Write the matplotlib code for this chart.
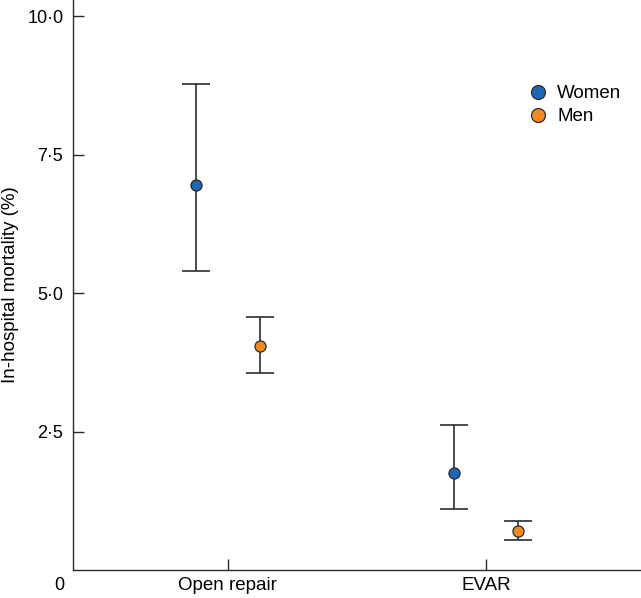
import numpy as np
import matplotlib
matplotlib.use("Agg")
import matplotlib.pyplot as plt
from matplotlib.lines import Line2D

plt.rcParams['font.family'] = ['Liberation Sans', 'DejaVu Sans']

#------------------------------------ Data -------------------------------------
categories = ['Open repair', 'EVAR']
women_mean = [6.95, 1.75]
women_low = [5.39, 1.10]
women_high = [8.77, 2.62]
men_mean = [4.04, 0.71]
men_low = [3.55, 0.55]
men_high = [4.56, 0.88]
y_ticks = [2.5, 5.0, 7.5, 10.0]
y_tick_labels = ['2·5', '5·0', '7·5', '10·0']

#------------------------------------ Style ------------------------------------
color_women = '#1f67b4'
color_men = '#f28a22'
line_color = '#2b2b2b'
offset = 0.124
fs = 13.5

fig = plt.figure(figsize=(6.41, 5.98), dpi=100)
ax = fig.add_axes((73 / 641, 28 / 598, 568 / 641, 570 / 598))

x = np.arange(len(categories))

def draw_group(xpos, mean, low, high, color):
    mean = np.array(mean)
    err = [mean - np.array(low), np.array(high) - mean]
    ax.errorbar(xpos, mean, yerr=err, fmt='none', ecolor=line_color,
                elinewidth=1.2, capsize=10, capthick=1.2, zorder=2)
    ax.plot(xpos, mean, 'o', markersize=8, markerfacecolor=color,
            markeredgecolor=line_color, markeredgewidth=0.9, zorder=3)

draw_group(x - offset, women_mean, women_low, women_high, color_women)
draw_group(x + offset, men_mean, men_low, men_high, color_men)

ax.set_xlim(-0.6, 1.6)
ax.set_ylim(0, 10.29)
ax.set_xticks(x)
ax.set_xticklabels(categories, fontsize=fs)
ax.set_yticks(y_ticks)
ax.set_yticklabels(y_tick_labels, fontsize=13)
ax.tick_params(direction='in', length=8, width=1.0, color=line_color, pad=7)
ax.tick_params(axis='x', pad=5)
for side in ['top', 'right']:
    ax.spines[side].set_visible(False)
for side in ['left', 'bottom']:
    ax.spines[side].set_color(line_color)
    ax.spines[side].set_linewidth(1.0)

# origin label sits a little below the axis
ax.annotate('0', xy=(0, 0), xycoords='axes fraction', xytext=(-9, -16),
            textcoords='offset pixels', ha='right', va='center', fontsize=13)

ax.set_ylabel('In-hospital mortality (%)', fontsize=fs, labelpad=6)

handles = [
    Line2D([], [], marker='o', linestyle='none', markersize=10,
           markerfacecolor=color_women, markeredgecolor=line_color, markeredgewidth=0.9),
    Line2D([], [], marker='o', linestyle='none', markersize=10,
           markerfacecolor=color_men, markeredgecolor=line_color, markeredgewidth=0.9),
]
ax.legend(handles, ['Women', 'Men'], loc='upper left', bbox_to_anchor=(0.77, 0.88),
          frameon=False, fontsize=fs, handletextpad=0.4, labelspacing=0.3,
          handlelength=1.2)

fig.savefig('out.png', dpi=100)
